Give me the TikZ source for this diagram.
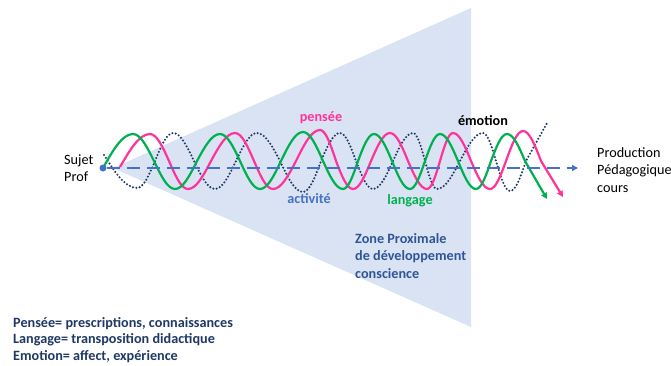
\documentclass[tikz,border=0pt]{standalone}
\usepackage{fontspec}
\setmainfont{Carlito}
\usetikzlibrary{arrows.meta}

\definecolor{fondzpd}{HTML}{DAE3F3}
\definecolor{axebleu}{HTML}{4472C4}
\definecolor{rose}{HTML}{FF3399}
\definecolor{vert}{HTML}{00B050}
\definecolor{marine}{HTML}{1F3864}
\definecolor{zpdbleu}{HTML}{2F5597}

\begin{document}
\begin{tikzpicture}[x=1pt,y=-1pt,
  onde/.style={line width=2.2pt},
  pointille/.style={line width=2.3pt,line cap=round,dash pattern=on 0pt off 3.4pt,color=marine},
  txt/.style={font=\fontsize{14.2}{17.5}\selectfont,inner sep=0pt,align=left},
  lbl/.style={font=\fontsize{14.2}{17.5}\selectfont\bfseries,inner sep=0pt,align=left}
]
\useasboundingbox (0,0) rectangle (671,365);

% zone proximale
\fill[fondzpd] (113,168) -- (471,8) -- (471,327) -- cycle;

% onde pointillee (emotion)
\draw[pointille] (104,155) sin (137,188) cos (155,161) sin (173,133) cos (194,161)
  sin (215,189) cos (236,161) sin (257,133) cos (280,161) sin (303,192) cos (321,161)
  sin (340,133) cos (356,161) sin (373,189) cos (393,161) sin (413,133) cos (425,161)
  sin (437,189) cos (460,161) sin (483,133) cos (496,161) sin (510,191) cos (526,161)
  -- (547,123);

% onde rose (pensee)
\draw[onde,rose,-{Triangle[length=6pt,width=6pt]}] (120,167) sin (150,134) cos (169,161)
  sin (188,189) cos (211,161) sin (235,133) cos (254,161) sin (273,189) cos (296,161)
  sin (320,130) cos (336,161) sin (353,189) cos (371,161) sin (390,133) cos (408,161)
  sin (427,189) cos (440,161) sin (453,133) cos (471,161) sin (490,189) cos (506,161)
  sin (523,131) cos (541,161) -- (563,197);

% onde verte (langage)
\draw[onde,vert,-{Triangle[length=6pt,width=6pt]}] (103,168) sin (133,134) cos (154,161)
  sin (175,189) cos (197,161) sin (220,134) cos (240,161) sin (260,189) cos (281,161)
  sin (303,132) cos (323,161) sin (343,189) cos (358,161) sin (374,134) cos (392,161)
  sin (410,189) cos (425,161) sin (440,134) cos (458,161) sin (476,189) cos (491,161)
  sin (507,134) cos (525,161) -- (547,199);

% axe
\node[circle,fill=axebleu,inner sep=0pt,minimum size=7pt] (sujet) at (103,168) {};
\coordinate (prod) at (578,168);
\draw[axebleu,line width=1.8pt,dash pattern=on 13pt off 7pt,-{Triangle[length=6pt,width=6pt]}] (sujet) -- (prod);

% textes
\node[txt,anchor=west] (sujetprof) at (64,168) {Sujet\\Prof};
\node[txt,anchor=west] (production) at (597,170) {Production\\Pédagogique\\cours};
\node[lbl,rose] (pensee) at (321,118) {pensée};
\node[lbl] (emotion) at (483,121) {émotion};
\node[lbl,axebleu] (activite) at (309,199) {activité};
\node[lbl,vert] (langage) at (410,201) {langage};
\node[lbl,zpdbleu,anchor=west] (zpd) at (355,256) {Zone Proximale\\de développement\\conscience};
\node[lbl,marine,anchor=west,font=\fontsize{14.2}{16.5}\selectfont\bfseries] (legende) at (13,340)
  {Pensée= prescriptions, connaissances\\Langage= transposition didactique\\Emotion= affect, expérience};

\end{tikzpicture}
\end{document}
